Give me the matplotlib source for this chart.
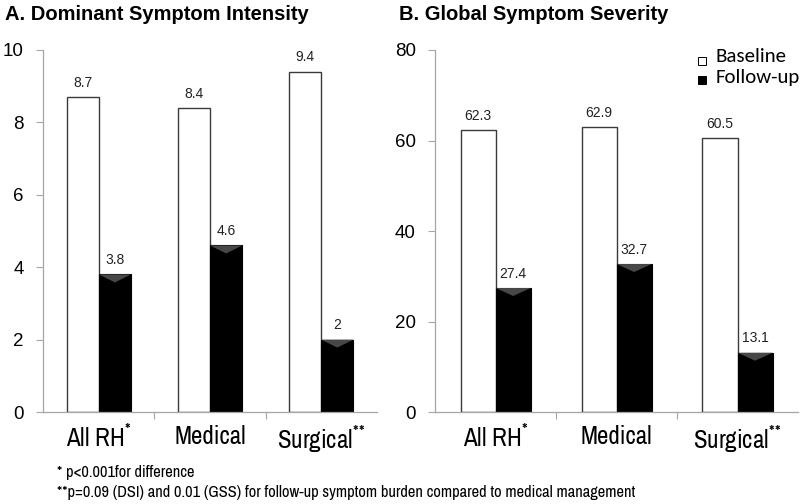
import numpy as np
import matplotlib
matplotlib.use("Agg")
import matplotlib.pyplot as plt
from matplotlib.patches import Polygon, Rectangle

# data
cats = ["All RH$^{*}$", "Medical", "Surgical$^{*\\!*}$"]
dsi_base = [8.7, 8.4, 9.4]
dsi_follow = [3.8, 4.6, 2]
gss_base = [62.3, 62.9, 60.5]
gss_follow = [27.4, 32.7, 13.1]
dsi_ticks = [0, 2, 4, 6, 8, 10]
gss_ticks = [0, 20, 40, 60, 80]

NARROW = ["Archivo Narrow", "Open Sans", "DejaVu Sans"]
ARIAL = ["Liberation Sans", "DejaVu Sans"]
LEG = ["Carlito", "Lato", "DejaVu Sans"]
AXCOL = "#a6a6a6"

plt.rcParams["mathtext.default"] = "regular"
fig = plt.figure(figsize=(8, 5.04), dpi=100)


def fmt(v):
    return ("%g" % v)


def panel(ax, base, follow, ticks, ymax, width, lbl_off):
    x = np.arange(len(base))
    ax.bar(x - width / 2, base, width, color="white", edgecolor="#3a3a3a", linewidth=1.0, zorder=2)
    ax.bar(x + width / 2, follow, width, color="black", edgecolor="black", linewidth=0.8, zorder=2)
    # little bevel at the top of the follow-up bars
    for xi, v in zip(x, follow):
        h = ymax * 0.022
        ax.add_patch(Polygon([(xi, v), (xi + width, v), (xi + width / 2, v - h)],
                             closed=True, color="#474747", zorder=3, lw=0))
    for xi, v in zip(x, base):
        ax.text(xi - width / 2, v + lbl_off, fmt(v), ha="center", va="bottom",
                fontsize=10, family=ARIAL, color="#222222")
    for xi, v in zip(x, follow):
        ax.text(xi + width / 2, v + lbl_off, fmt(v), ha="center", va="bottom",
                fontsize=10, family=ARIAL, color="#222222")
    ax.set_xlim(-0.5, len(base) - 0.5)
    ax.set_ylim(0, ymax)
    ax.set_yticks(ticks)
    ax.set_yticklabels([str(t) for t in ticks], family=ARIAL, fontsize=13.5)
    ax.set_xticks(x)
    ax.set_xticklabels(cats, family=NARROW, fontsize=18)
    ax.set_xticks([0.5, 1.5], minor=True)
    ax.tick_params(axis="x", which="major", length=0, pad=9)
    ax.tick_params(axis="x", which="minor", length=5, color=AXCOL, width=0.8)
    ax.tick_params(axis="y", length=5, color=AXCOL, width=0.8, pad=9)
    for s in ["top", "right"]:
        ax.spines[s].set_visible(False)
    for s in ["left", "bottom"]:
        ax.spines[s].set_color(AXCOL)
        ax.spines[s].set_linewidth(0.9)


ax1 = fig.add_axes([0.054, 0.1825, 0.417, 0.7183])
panel(ax1, dsi_base, dsi_follow, dsi_ticks, 10, 0.29, 0.2)
ax2 = fig.add_axes([0.544, 0.1825, 0.4535, 0.7183])
panel(ax2, gss_base, gss_follow, gss_ticks, 80, 0.29, 1.6)

fig.text(0.006, 0.972, "A. Dominant Symptom Intensity", fontsize=14.5, fontweight="bold",
         family=ARIAL, va="center", ha="left")
fig.text(0.499, 0.972, "B. Global Symptom Severity", fontsize=14.5, fontweight="bold",
         family=ARIAL, va="center", ha="left")

# legend
fig.patches.append(Rectangle((0.8725, 0.871), 0.010, 0.0159, transform=fig.transFigure,
                             facecolor="white", edgecolor="black", lw=0.7))
fig.patches.append(Rectangle((0.8725, 0.8333), 0.010, 0.0159, transform=fig.transFigure,
                             facecolor="black", edgecolor="black", lw=0.7))
fig.text(0.894, 0.877, "Baseline", fontsize=15, family=LEG, va="baseline")
fig.text(0.894, 0.835, "Follow-up", fontsize=15, family=LEG, va="baseline")

# footnotes
fig.text(0.071, 0.062, "* p<0.001for difference", fontsize=11.8, family=NARROW, va="center")
fig.text(0.071, 0.022, "**p=0.09 (DSI) and 0.01 (GSS) for follow-up symptom burden compared to medical management",
         fontsize=11.8, family=NARROW, va="center")

fig.savefig("out.png", dpi=100)
